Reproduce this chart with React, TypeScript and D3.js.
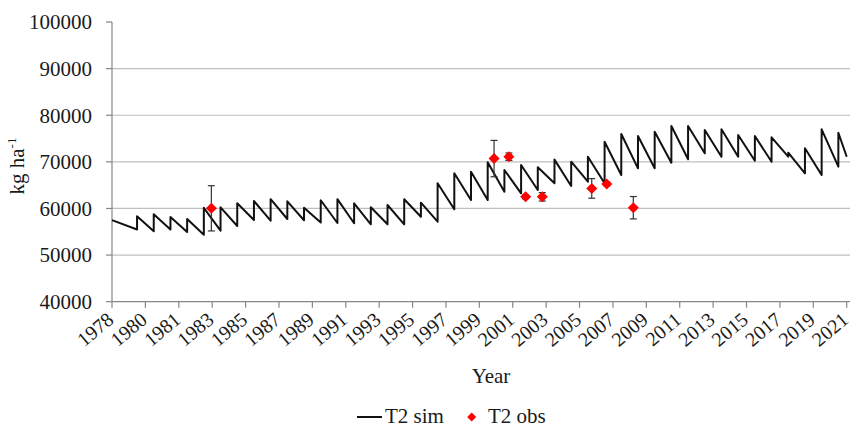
import React from "react";
import * as d3 from "d3";

// ---------- data ----------
const startYear = 1978;
const endYear = 2022;
const startValue = 57500;
const endValue = 71100;

const jumpYears = [
  1979.5, 1980.5, 1981.5, 1982.5, 1983.5, 1984.5, 1985.5, 1986.5, 1987.5, 1988.5,
  1989.5, 1990.5, 1991.5, 1992.5, 1993.5, 1994.5, 1995.5, 1996.5, 1997.5, 1998.5,
  1999.5, 2000.5, 2001.5, 2002.5, 2003.5, 2004.5, 2005.5, 2006.5, 2007.5, 2008.5,
  2009.5, 2010.5, 2011.5, 2012.5, 2013.5, 2014.5, 2015.5, 2016.5, 2017.5, 2018.5,
  2019.5, 2020.5, 2021.5,
];
const troughValues = [
  55490, 55100, 55490, 54950, 54370, 55230, 56240, 57520, 57370, 57740,
  57480, 56990, 56880, 56820, 56600, 56600, 56600, 58230, 57160, 59820,
  61810, 61810, 63600, 63250, 63960, 65400, 64820, 65740, 65400, 67180,
  68610, 68610, 69820, 70550, 71830, 71100, 71100, 70240, 70030, 71100,
  67540, 67180, 68960,
];
const peakValues = [
  58320, 58750, 58170, 57740, 60140, 60250, 61110, 61600, 61990, 61540,
  60140, 61770, 61990, 61110, 60250, 60740, 61990, 61240, 65400, 67540,
  67890, 69900, 68250, 69320, 68830, 70480, 70030, 71100, 74320, 75970,
  75540, 76470, 77690, 77690, 76830, 76980, 75760, 75540, 75260, 71960,
  72900, 76980, 76250,
];

const obsYears = [1983.95, 2000.88, 2001.77, 2002.77, 2003.77, 2006.73, 2007.63, 2009.22];
const obsValues = [60030, 70700, 71100, 62500, 62500, 64300, 65250, 60160];
const obsErrors = [4850, 3900, 800, 400, 900, 2100, 400, 2400];

const xTickLabels = [
  "1978", "1980", "1981", "1983", "1985", "1987", "1989", "1991", "1993", "1995", "1997", "1999",
  "2001", "2003", "2005", "2007", "2009", "2011", "2013", "2015", "2017", "2019", "2021",
];
const yTicks = [40000, 50000, 60000, 70000, 80000, 90000, 100000];
const gridTicks = [50000, 60000, 70000, 80000, 90000];

// ---------- layout ----------
const W = 857;
const H = 428;
const left = 112;
const right = 846.7;
const top = 22;
const bottom = 301.7;
const FONT = "'Liberation Serif', 'Times New Roman', serif";

export default function App() {
  const x = d3.scaleLinear().domain([startYear, endYear]).range([left, right]);
  const xi = d3.scaleLinear().domain([0, xTickLabels.length - 1]).range([left, right]);
  const y = d3.scaleLinear().domain([40000, 100000]).range([bottom, top]);

  const pts: [number, number][] = [[startYear, startValue]];
  jumpYears.forEach((yr, i) => {
    pts.push([yr, troughValues[i]]);
    pts.push([yr, peakValues[i]]);
  });
  pts.push([endYear, endValue]);

  const line = d3
    .line<[number, number]>()
    .x((d) => x(d[0]))
    .y((d) => y(d[1]));

  const diamond = (cx: number, cy: number, r: number) =>
    `M${cx},${cy - r}L${cx + r},${cy}L${cx},${cy + r}L${cx - r},${cy}Z`;

  return (
    <svg
      width={W}
      height={H}
      style={{ position: "absolute", left: 0, top: 0, background: "#fff" }}
      fontFamily={FONT}
    >
      <rect width={W} height={H} fill="#fff" />
      {/* gridlines */}
      {gridTicks.map((t) => (
        <line key={t} x1={left} x2={850} y1={y(t)} y2={y(t)} stroke="#bfbfbf" strokeWidth={1.2} />
      ))}
      {/* axes */}
      <line x1={left} x2={left} y1={top} y2={bottom} stroke="#868686" strokeWidth={1.2} />
      <line x1={left} x2={850} y1={bottom} y2={bottom} stroke="#868686" strokeWidth={1.2} />
      {yTicks.map((t) => (
        <g key={t}>
          <line x1={left - 6} x2={left} y1={y(t)} y2={y(t)} stroke="#868686" strokeWidth={1.2} />
          <text x={92} y={y(t)} dy="0.35em" textAnchor="end" fontSize={21} fill="#1a1a1a">
            {t}
          </text>
        </g>
      ))}
      {xTickLabels.map((lab, i) => (
        <g key={lab}>
          <line x1={xi(i)} x2={xi(i)} y1={bottom} y2={bottom + 6} stroke="#868686" strokeWidth={1.2} />
          <text
            transform={`translate(${xi(i) + 3},${bottom + 20}) rotate(-40)`}
            textAnchor="end"
            fontSize={20}
            fill="#1a1a1a"
          >
            {lab}
          </text>
        </g>
      ))}
      {/* simulated line */}
      <path d={line(pts) || ""} fill="none" stroke="#111" strokeWidth={2} strokeLinejoin="round" />
      {/* error bars */}
      {obsYears.map((yr, i) => {
        const cx = x(yr);
        const y1 = y(obsValues[i] + obsErrors[i]);
        const y2 = y(obsValues[i] - obsErrors[i]);
        return (
          <g key={"e" + i} stroke="#333" strokeWidth={1.2}>
            <line x1={cx} x2={cx} y1={y1} y2={y2} />
            <line x1={cx - 3.5} x2={cx + 3.5} y1={y1} y2={y1} />
            <line x1={cx - 3.5} x2={cx + 3.5} y1={y2} y2={y2} />
          </g>
        );
      })}
      {obsYears.map((yr, i) => (
        <path key={"d" + i} d={diamond(x(yr), y(obsValues[i]), 5.5)} fill="#ff0000" />
      ))}
      {/* axis titles */}
      <text transform="translate(24,166) rotate(-90)" textAnchor="middle" fontSize={21} fill="#1a1a1a">
        kg ha
        <tspan fontSize={13} dy={-8}>
          -1
        </tspan>
      </text>
      <text x={491} y={383} textAnchor="middle" fontSize={21} fill="#1a1a1a">
        Year
      </text>
      {/* legend */}
      <line x1={357} x2={382} y1={417} y2={417} stroke="#111" strokeWidth={2} />
      <text x={385} y={423} fontSize={21} fill="#1a1a1a">
        T2 sim
      </text>
      <path d={diamond(471.7, 417, 4.5)} fill="#ff0000" />
      <text x={488} y={423} fontSize={21} fill="#1a1a1a">
        T2 obs
      </text>
    </svg>
  );
}
